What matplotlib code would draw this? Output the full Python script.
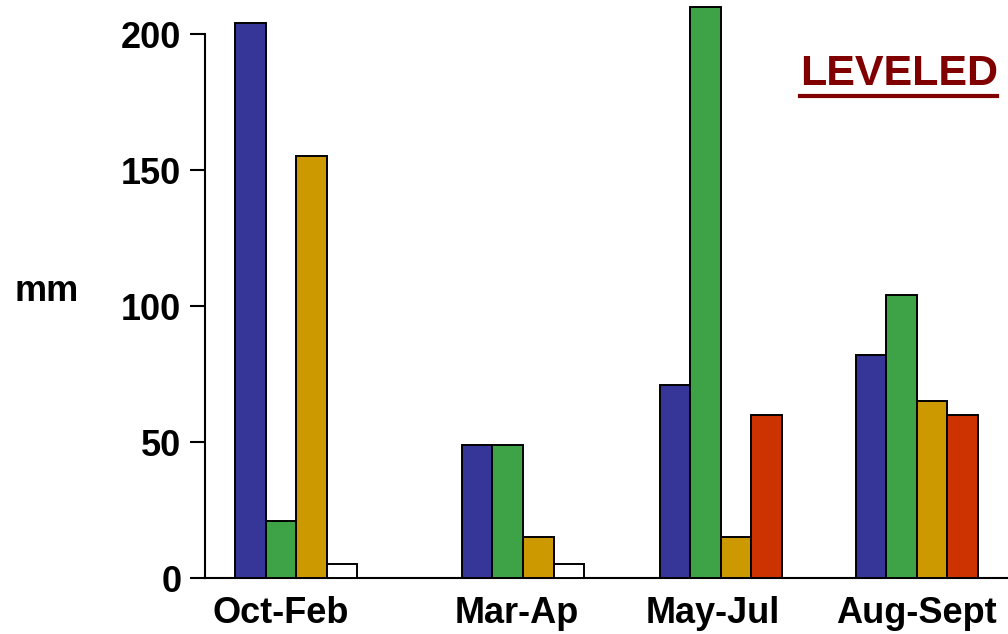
import matplotlib.pyplot as plt
import numpy as np

plt.rcParams['font.family'] = ['Liberation Sans', 'DejaVu Sans']
plt.rcParams['font.weight'] = 'bold'

# data (mm)
periods = ["Oct-Feb", "Mar-Ap", "May-Jul", "Aug-Sept"]
blue_vals = [204, 49, 71, 82]
green_vals = [21, 49, 210, 104]
gold_vals = [155, 15, 15, 65]
fourth_vals = [5, 5, 60, 60]
yticks = [0, 50, 100, 150, 200]

# layout
group_pos = np.array([0, 1.152, 2.155, 3.15])
label_pos = group_pos - np.array([0.08, 0.03, 0.04, 0.0])
width = 0.155
fourth_colors = ["white", "white", "#CC3300", "#CC3300"]

fig = plt.figure(figsize=(10.08, 6.34), dpi=100)
ax = fig.add_axes([0.2034, 0.0883, 0.7966, 0.9095])

series = [(blue_vals, "#363699"), (green_vals, "#3EA346"),
          (gold_vals, "#CC9900"), (fourth_vals, fourth_colors)]
for i, (vals, col) in enumerate(series):
    ax.bar(group_pos + (i - 1.5) * width, vals, width, color=col,
           edgecolor="black", linewidth=1.4, zorder=3, clip_on=False)

ax.set_xlim(-0.462, 3.614)
ax.set_ylim(0, 212)
ax.spines['top'].set_visible(False)
ax.spines['right'].set_visible(False)
ax.spines['left'].set_bounds(0, 200)
ax.spines['left'].set_linewidth(1.5)
ax.spines['bottom'].set_linewidth(1.5)

ax.set_yticks(yticks)
ax.tick_params(axis='y', length=11, width=1.5, pad=6, labelsize=26)
ax.set_xticks(label_pos)
ax.set_xticklabels(periods)
ax.tick_params(axis='x', length=0, pad=13, labelsize=26)

fig.text(0.046, 0.541, "mm", fontsize=26, fontweight='bold', ha='center', va='center')

fig.text(0.8915, 0.883, "LEVELED", fontsize=31, fontweight='bold',
         color="#800000", ha='center', va='center')
fig.add_artist(plt.Line2D([0.794, 0.989], [0.849, 0.849], color="#800000",
                          linewidth=3, transform=fig.transFigure))

fig.savefig("out.png", dpi=100)
